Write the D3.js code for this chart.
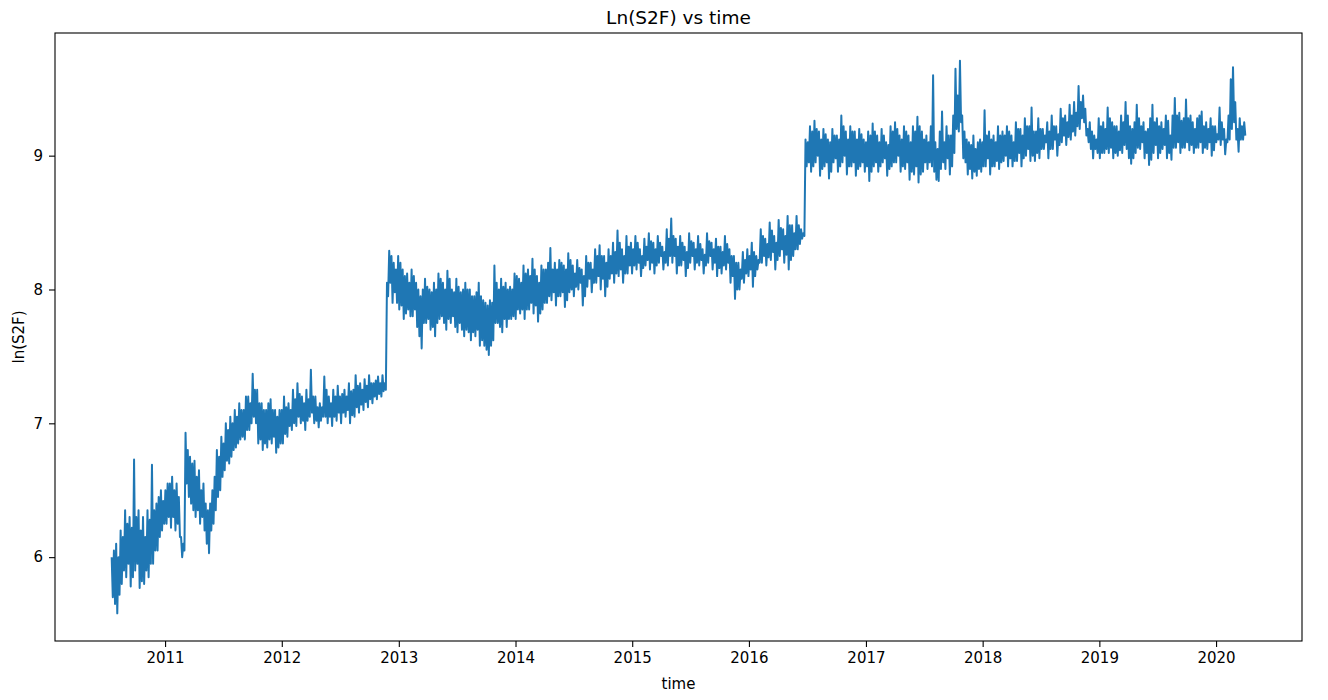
<!DOCTYPE html>
<html><head><meta charset="utf-8">
<script src="https://cdn.jsdelivr.net/npm/d3@7"></script>
<style>
html,body{margin:0;padding:0;background:#fff;}
svg text{font-family:"DejaVu Sans",sans-serif;fill:#000;}
</style></head>
<body>
<svg id="chart" width="1328" height="700"></svg>
<script>
// ---- data ----
// The series is very noisy (daily). It is read here week by week as the upper
// and lower edge of the noisy band: an upper sample at the start of each week
// and a lower sample half a week later.
const startDate = "2010-07-18";
const stepDays = 7;
const upperValues = [
 // 2010
 6.00,6.05,6.10,6.00,6.20,6.15,6.35,6.25,6.30,6.22,6.73,6.30,6.35,6.20,6.30,6.15,6.35,6.28,6.69,6.35,6.40,6.45,6.50,6.42,
 // 2011
 6.50,6.55,6.55,6.60,6.50,6.55,6.45, 6.15,6.10, 6.93, 6.80,6.75,6.70,6.72,6.60,6.65,6.50,6.55,6.40, 6.35,6.40,6.50,
 6.60,6.80,6.75,6.90,6.85,7.00,6.95, 7.05,7.00,7.10,7.05,7.15,7.10,7.10,7.20, 7.20,7.15,7.37,7.25,
 7.25,7.15,7.15,7.10,7.10,7.15,7.18,7.10,7.10,7.05,7.10,
 // 2012
 7.10,7.20,7.12,7.15,7.10,7.25,7.18,7.30,7.22,7.20,7.15,7.25,7.18,7.40,7.20,7.20,7.12,7.15,7.12,7.35,7.25,7.20,7.15,7.25,
 7.20,7.28,7.20,7.22,7.25,7.20,7.30,7.24,7.25,7.36,7.28,7.30,7.25,7.33,7.28,7.36,7.30,7.30,7.32,7.35,7.30,7.36,7.30,
 8.05,8.29,8.25,8.20,8.15,
 // 2013
 8.25,8.20,8.15,8.10,8.12,8.05,8.15,8.10,8.05,8.00,7.95,8.00,8.08,8.02,8.00,7.98,8.05,8.00,8.12,8.08,8.05,8.00,8.14,8.08,8.00,7.98,
 8.08,8.02,7.98,8.00,8.05,8.00,8.00,7.95,7.95,7.98,8.05,7.95,7.92,7.90,7.88,7.92,7.90,8.18,8.05,8.00,8.08,8.02,8.05,8.00,8.02,8.00,
 // 2014
 8.12,8.10,8.08,8.05,8.18,8.12,8.15,8.10,8.23,8.15,8.10,8.05,8.18,8.15,8.15,8.20,8.31,8.15,8.20,8.15,8.22,8.20,8.18,8.15,8.27,8.22,
 8.18,8.12,8.22,8.16,8.15,8.10,8.25,8.20,8.20,8.15,8.30,8.25,8.33,8.25,8.25,8.20,8.30,8.25,8.35,8.28,8.44,8.35,8.30,8.25,8.40,8.32,
 // 2015
 8.35,8.30,8.40,8.35,8.30,8.25,8.38,8.32,8.42,8.36,8.35,8.30,8.40,8.35,8.32,8.28,8.45,8.38,8.53,8.40,8.38,8.32,8.40,8.35,8.32,8.28,
 8.42,8.36,8.35,8.30,8.40,8.34,8.30,8.26,8.42,8.36,8.35,8.30,8.38,8.32,8.32,8.28,8.40,8.34,8.30,8.25,8.25,8.20,8.20,8.15,8.28,8.22,
 // 2016
 8.30,8.25,8.35,8.28,8.25,8.22,8.45,8.40,8.38,8.34,8.50,8.44,8.40,8.35,8.52,8.46,8.45,8.40,8.55,8.48,8.48,8.42,8.55,8.48,8.45,8.42,
 9.12,9.10,9.22,9.18,9.26,9.20,9.18,9.12,9.20,9.16,9.12,9.10,9.20,9.15,9.15,9.12,9.30,9.22,9.18,9.12,9.22,9.18,9.18,9.12,9.20,9.16,
 // 2017
 9.12,9.10,9.18,9.15,9.24,9.18,9.15,9.10,9.20,9.15,9.10,9.08,9.22,9.18,9.25,9.20,9.15,9.12,9.22,9.18,9.15,9.10,9.22,9.18,9.29,9.22,
 9.18,9.12,9.15,9.10,9.22,9.60,9.10,9.05,9.18,9.33,9.10,9.22,9.15,9.15,9.30,9.65,9.45,9.71,9.30,9.18,9.12,9.10,9.08,9.15,9.05,9.10,
 // 2018
 9.12,9.10,9.34,9.15,9.18,9.12,9.15,9.10,9.22,9.15,9.18,9.15,9.22,9.18,9.15,9.10,9.25,9.20,9.20,9.15,9.28,9.22,9.22,9.36,9.18,9.18,
 9.28,9.20,9.20,9.15,9.25,9.18,9.30,9.22,9.22,9.16,9.35,9.28,9.30,9.25,9.38,9.30,9.40,9.32,9.52,9.40,9.45,9.35,9.20,9.25,9.18,9.15,9.12,
 // 2019 - 2020
 9.28,9.22,9.25,9.20,9.36,9.28,9.25,9.22,9.22,9.18,9.30,9.25,9.40,9.30,9.22,9.20,9.25,9.38,9.28,9.22,9.25,9.18,9.20,9.28,9.38,9.25,
 9.28,9.22,9.25,9.20,9.30,9.26,9.15,9.30,9.43,9.30,9.32,9.26,9.28,9.42,9.28,9.30,9.25,9.20,9.28,9.30,9.33,9.22,9.25,9.20,9.28,9.22,
 9.22,9.16,9.36,9.25,9.20,9.12,9.30,9.57,9.66,9.40,9.20,9.28,9.22,9.25
];
const lowerValues = [
 // 2010
 5.70,5.65,5.58,5.72,5.80,5.90,5.85,5.95,5.78,5.85,5.90,5.95,5.77,5.82,5.80,5.90,5.85,5.95,5.95,6.05,6.05,6.15,6.20,6.25,
 // 2011
 6.25,6.30,6.22,6.30,6.20,6.25,6.15, 6.00,6.05, 6.55, 6.45,6.40,6.35,6.30,6.35,6.25,6.30,6.20,6.10, 6.03,6.20,6.25,
 6.35,6.45,6.50,6.60,6.65,6.72,6.70, 6.75,6.80,6.82,6.85,6.88,6.90,6.88,6.95, 6.95,7.00,7.05,7.00,
 6.85,6.88,6.80,6.85,6.82,6.88,6.85,6.90,6.78,6.82,6.85,
 // 2012
 6.85,6.92,6.90,6.98,6.95,7.00,6.98,7.05,7.00,7.02,6.95,7.02,7.05,7.08,7.00,7.02,6.97,7.02,7.05,7.05,7.00,7.05,6.98,7.05,
 7.02,7.08,7.00,7.08,7.05,7.10,7.00,7.06,7.05,7.12,7.08,7.14,7.10,7.16,7.12,7.18,7.15,7.20,7.18,7.22,7.20,7.24,7.25,
 7.95,8.05,7.90,7.98,7.90,
 // 2013
 7.85,7.88,7.78,7.82,7.85,7.80,7.80,7.85,7.72,7.65,7.56,7.75,7.75,7.78,7.70,7.72,7.65,7.75,7.78,7.80,7.75,7.70,7.78,7.75,7.80,7.72,
 7.68,7.75,7.70,7.65,7.70,7.68,7.62,7.68,7.65,7.70,7.58,7.62,7.58,7.55,7.51,7.58,7.62,7.75,7.75,7.72,7.68,7.78,7.72,7.78,7.78,7.80,
 // 2014
 7.78,7.85,7.82,7.85,7.78,7.85,7.85,7.90,7.82,7.88,7.76,7.82,7.85,7.90,7.90,7.95,7.92,7.98,7.88,7.95,7.95,7.98,7.87,7.92,7.98,8.00,
 7.95,8.02,8.00,8.05,7.88,7.95,8.02,8.08,7.98,8.05,8.05,8.10,8.00,8.08,7.95,8.02,8.08,8.12,8.05,8.12,8.10,8.15,8.05,8.12,8.12,8.18,
 // 2015
 8.12,8.18,8.15,8.20,8.10,8.16,8.18,8.22,8.15,8.20,8.12,8.18,8.20,8.25,8.15,8.20,8.18,8.25,8.20,8.25,8.12,8.18,8.18,8.22,8.10,8.16,
 8.20,8.25,8.15,8.20,8.18,8.22,8.12,8.18,8.20,8.25,8.15,8.20,8.10,8.16,8.12,8.18,8.15,8.20,8.05,8.10,7.93,8.00,8.00,8.08,8.05,8.12,
 // 2016
 8.10,8.15,8.02,8.10,8.15,8.20,8.20,8.25,8.18,8.24,8.22,8.28,8.15,8.22,8.25,8.30,8.20,8.26,8.15,8.22,8.25,8.30,8.30,8.34,8.38,8.40,
 8.92,8.95,8.88,8.92,8.95,9.00,8.85,8.90,8.92,8.95,8.83,8.88,8.95,8.98,8.88,8.92,8.95,9.00,8.86,8.92,8.92,8.95,8.85,8.90,8.92,8.95,
 // 2017
 8.88,8.92,8.81,8.88,8.92,8.95,8.88,8.92,8.95,8.98,8.85,8.90,8.92,8.95,8.95,9.00,8.88,8.92,8.90,8.95,8.82,8.88,8.86,8.92,8.80,8.86,
 8.88,8.95,8.90,8.95,8.92,8.88,8.82,8.81,8.90,8.95,8.90,8.98,8.86,8.92,9.02,9.20,9.18,9.25,8.98,8.95,8.86,8.90,8.83,8.88,8.85,8.90,
 // 2018
 8.88,8.92,8.92,8.98,8.86,8.92,8.92,8.96,8.90,8.95,8.96,9.00,8.92,8.98,8.92,8.96,8.96,9.02,8.92,8.98,9.00,9.05,8.96,9.00,8.96,9.02,
 8.98,9.05,9.05,9.10,8.98,9.05,9.05,9.12,9.00,9.08,9.10,9.15,9.08,9.14,9.12,9.18,9.15,9.22,9.20,9.28,9.25,9.15,9.10,9.05,8.98,9.05,9.02,
 // 2019 - 2020
 8.98,9.02,9.02,9.05,9.02,9.06,8.98,9.02,9.00,9.04,9.02,9.08,9.05,8.98,8.94,8.98,9.02,9.06,9.05,9.10,8.98,9.02,8.93,8.97,9.02,9.08,
 8.98,9.02,9.05,9.08,8.98,9.02,8.97,9.06,9.06,9.10,9.02,9.06,9.06,9.10,9.04,9.08,9.02,9.06,9.06,9.10,9.02,9.06,9.05,9.10,9.00,9.04,
 9.10,9.12,9.08,9.12,9.01,9.10,9.12,9.20,9.25,9.12,9.03,9.12,9.12,9.15
];
const xTickYears = [2011,2012,2013,2014,2015,2016,2017,2018,2019,2020];
const yTicks = [6,7,8,9];
const titleText = "Ln(S2F) vs time";
const xLabel = "time";
const yLabel = "ln(S2F)";

// ---- build series in time order ----
const parse = d3.timeParse("%Y-%m-%d");
const t0 = parse(startDate);
const data = [];
upperValues.forEach((v,i)=>{
  const d = d3.timeDay.offset(t0, i*stepDays);
  data.push({date:d, value:v});
  if (i < lowerValues.length) {
    data.push({date:d3.timeHour.offset(d, stepDays*12), value:lowerValues[i]});
  }
});

// ---- layout ----
const svg = d3.select("#chart");
const L=55, R=1302, T=33, B=641;

const xExt = d3.extent(data, d=>+d.date);
const xPad = (xExt[1]-xExt[0])*0.05;
const x = d3.scaleTime().domain([new Date(xExt[0]-xPad), new Date(xExt[1]+xPad)]).range([L,R]);
const yExt = d3.extent(data, d=>d.value);
const yPad = (yExt[1]-yExt[0])*0.05;
const y = d3.scaleLinear().domain([yExt[0]-yPad, yExt[1]+yPad]).range([B,T]);

const line = d3.line().x(d=>x(d.date)).y(d=>y(d.value));
svg.append("path").datum(data)
  .attr("d", line)
  .attr("fill","none")
  .attr("stroke","#1f77b4")
  .attr("stroke-width",2.0)
  .attr("stroke-linejoin","round")
  .attr("stroke-linecap","butt");

// axes
const xAxis = d3.axisBottom(x)
  .tickValues(xTickYears.map(yv=>new Date(yv,0,1)))
  .tickFormat(d3.timeFormat("%Y"))
  .tickSize(6).tickPadding(5);
const gx = svg.append("g").attr("transform",`translate(0,${B})`).call(xAxis);
const yAxis = d3.axisLeft(y).tickValues(yTicks).tickFormat(d3.format("d")).tickSize(6).tickPadding(6);
const gy = svg.append("g").attr("transform",`translate(${L},0)`).call(yAxis);
[gx,gy].forEach(g=>{
  g.select(".domain").remove();
  g.selectAll(".tick line").attr("stroke","#000").attr("stroke-width",1.1);
  g.selectAll(".tick text").attr("font-size",15).attr("font-family","DejaVu Sans").attr("fill","#000");
});

// frame
svg.append("rect").attr("x",L).attr("y",T).attr("width",R-L).attr("height",B-T)
  .attr("fill","none").attr("stroke","#000").attr("stroke-width",1.1);

// texts
svg.append("text").attr("x",(L+R)/2).attr("y",24).attr("text-anchor","middle")
  .attr("font-size",18.5).text(titleText);
svg.append("text").attr("x",(L+R)/2).attr("y",689).attr("text-anchor","middle")
  .attr("font-size",15).text(xLabel);
svg.append("text").attr("transform",`translate(24,${(T+B)/2}) rotate(-90)`).attr("text-anchor","middle")
  .attr("font-size",15).text(yLabel);
</script>
</body></html>
